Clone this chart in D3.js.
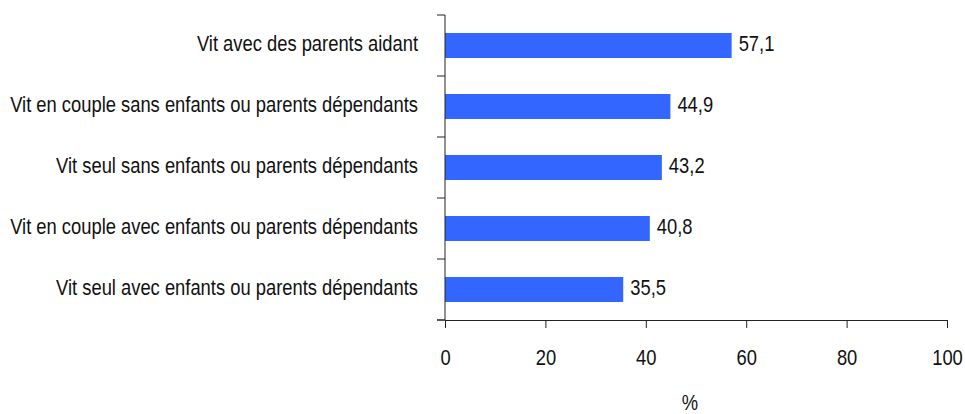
<!DOCTYPE html>
<html><head><meta charset="utf-8">
<script src="https://cdn.jsdelivr.net/npm/d3@7"></script>
<style>body{margin:0;background:#fff;} text{font-family:"Liberation Sans",Arial,sans-serif;}</style>
</head><body>
<svg id="c" width="965" height="414"></svg>
<script>
const categories = [
  "Vit avec des parents aidant",
  "Vit en couple sans enfants ou parents dépendants",
  "Vit seul sans enfants ou parents dépendants",
  "Vit en couple avec enfants ou parents dépendants",
  "Vit seul avec enfants ou parents dépendants"
];
const values = [57.1, 44.9, 43.2, 40.8, 35.5];
const xTicks = [0, 20, 40, 60, 80, 100];
const axisTitle = "%";

const FS = 22;
const SX = 0.835;
const svg = d3.select("#c");
const x = d3.scaleLinear().domain([0, 100]).range([445, 947]);
const y = d3.scaleBand().domain(categories).range([15, 320]).paddingInner(0.59).paddingOuter(0.295);
const fmt = v => v.toFixed(1).replace(".", ",");

svg.selectAll("rect.bar").data(values).join("rect")
  .attr("class", "bar")
  .attr("x", x(0))
  .attr("y", (d, i) => y(categories[i]))
  .attr("width", d => x(d) - x(0))
  .attr("height", y.bandwidth())
  .attr("fill", "#3366ff");

svg.selectAll("text.val").data(values).join("text")
  .attr("class", "val")
  .attr("transform", (d, i) => `translate(${x(d) + 7},${y(categories[i]) + y.bandwidth() / 2}) scale(${SX},1)`)
  .attr("dy", "0.27em")
  .attr("font-size", FS)
  .attr("fill", "#111")
  .text(fmt);

const yEdges = d3.range(categories.length + 1).map(i => 15 + i * (305 / categories.length));
svg.append("line").attr("x1", x(0)).attr("x2", x(0)).attr("y1", 15).attr("y2", 320).attr("stroke", "#222");
svg.selectAll("line.ytick").data(yEdges).join("line")
  .attr("class", "ytick")
  .attr("x1", x(0) - 8).attr("x2", x(0))
  .attr("y1", d => d).attr("y2", d => d)
  .attr("stroke", "#222");

svg.selectAll("text.cat").data(categories).join("text")
  .attr("class", "cat")
  .attr("transform", d => `translate(${x(0) - 27},${y(d) + y.bandwidth() / 2}) scale(${SX},1)`)
  .attr("dy", "0.27em")
  .attr("text-anchor", "end")
  .attr("font-size", FS)
  .attr("fill", "#111")
  .text(d => d);

const xAxis = d3.axisBottom(x).tickValues(xTicks).tickSize(8).tickPadding(21).tickSizeOuter(0);
const gx = svg.append("g").attr("transform", "translate(0,320)").call(xAxis);
gx.select(".domain").attr("stroke", "#222");
gx.selectAll(".tick line").attr("stroke", "#222");
gx.selectAll(".tick text").attr("font-size", FS).attr("fill", "#111")
  .attr("font-family", "Liberation Sans, Arial, sans-serif")
  .attr("transform", `scale(${SX},1)`);
svg.append("line").attr("x1", x(0) - 8).attr("x2", x(0)).attr("y1", 320).attr("y2", 320).attr("stroke", "#222");

svg.append("text")
  .attr("transform", `translate(690,410) scale(${SX},1)`)
  .attr("text-anchor", "middle").attr("font-size", FS).attr("fill", "#111").text(axisTitle);
</script>
</body></html>
